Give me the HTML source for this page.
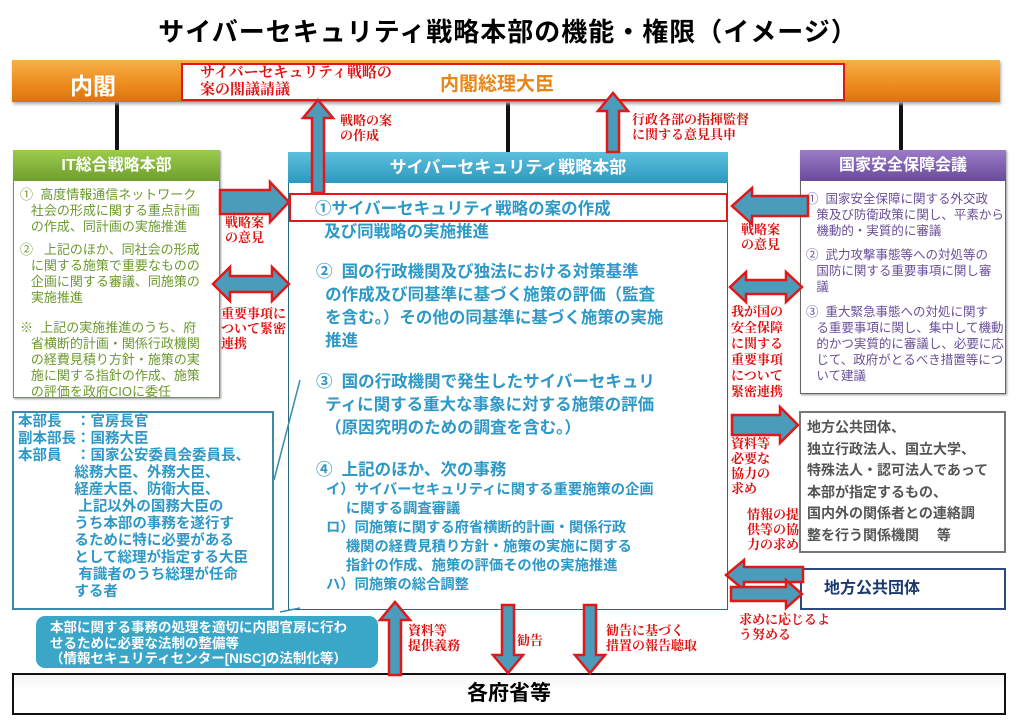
<!DOCTYPE html>
<html><head><meta charset="utf-8"><style>
body{margin:0;width:1016px;height:722px;background:#fff;position:relative;overflow:hidden;font-family:"Liberation Sans","Noto Sans CJK JP",sans-serif}
.a{position:absolute;white-space:nowrap}
.r{color:#e01010;font-family:"Liberation Serif","Noto Serif CJK SC",serif;font-weight:bold;font-size:13px;line-height:15px}
.g{color:#6b9a2c;font-size:13px;line-height:16px}
.p{color:#6a4f9a;font-size:12.5px;line-height:16px}
.b{color:#2e98c6;font-weight:bold;font-size:16.5px}
.s{color:#2e98c6;font-weight:bold;font-size:14.3px}
</style></head><body>
<div class="a" style="left:0;width:1016px;top:12px;text-align:center;font-size:26px;font-weight:bold;letter-spacing:1px">サイバーセキュリティ戦略本部の機能・権限（イメージ）</div>
<div class="a" style="left:115px;top:100px;width:4px;height:52px;background:#111"></div>
<div class="a" style="left:506px;top:100px;width:4px;height:52px;background:#111"></div>
<div class="a" style="left:899px;top:100px;width:4px;height:52px;background:#111"></div>
<div class="a" style="left:12px;top:60px;width:988px;height:42px;background:linear-gradient(#f7b04a,#ec8a1c 60%,#d8760e);box-shadow:1px 2px 3px #aaa"></div>
<div class="a" style="left:70px;top:67px;color:#fff;font-size:23px;font-weight:bold">内閣</div>
<div class="a" style="left:181px;top:63px;width:660px;height:34px;background:#fff;border:2px solid #e01818"></div>
<div class="a r" style="left:200px;top:65px;font-size:15px;line-height:16.5px">サイバーセキュリティ戦略の<br>案の閣議請議</div>
<div class="a" style="left:440px;top:69px;color:#e8861a;font-size:19px;font-weight:bold">内閣総理大臣</div>
<div class="a" style="left:13px;top:150px;width:205px;height:246px;border:1px solid #7a8a70;box-shadow:1px 1px 2px #999;background:#fff"></div>
<div class="a" style="left:13px;top:150px;width:207px;height:31px;background:linear-gradient(#9ccb4c,#6f9f2e);color:#fff;font-weight:bold;font-size:16px;text-align:center;line-height:31px">IT総合戦略本部</div>
<div class="a g" style="left:20px;top:187px">①&nbsp; 高度情報通信ネットワーク<br>&nbsp;&nbsp; 社会の形成に関する重点計画<br>&nbsp;&nbsp; の作成、同計画の実施推進</div>
<div class="a g" style="left:20px;top:242px">②&nbsp;&nbsp; 上記のほか、同社会の形成<br>&nbsp;&nbsp; に関する施策で重要なものの<br>&nbsp;&nbsp; 企画に関する審議、同施策の<br>&nbsp;&nbsp; 実施推進</div>
<div class="a g" style="left:20px;top:320px">※&nbsp; 上記の実施推進のうち、府<br>&nbsp;&nbsp; 省横断的計画・関係行政機関<br>&nbsp;&nbsp; の経費見積り方針・施策の実<br>&nbsp;&nbsp; 施に関する指針の作成、施策<br>&nbsp;&nbsp; の評価を政府CIOに委任</div>
<div class="a" style="left:288px;top:152px;width:438px;height:456px;border:1px solid #2b6a82;background:#fff"></div>
<div class="a" style="left:288px;top:152px;width:440px;height:31px;background:linear-gradient(#5cc0dc,#2e98c0);color:#fff;font-weight:bold;font-size:17px;text-align:center;line-height:31px">サイバーセキュリティ戦略本部</div>
<div class="a" style="left:289px;top:193px;width:435px;height:25px;border:2px solid #e01818"></div>
<div class="a b" style="left:315px;top:198px;line-height:23px">①サイバーセキュリティ戦略の案の作成<br>&nbsp;&nbsp;及び同戦略の実施推進</div>
<div class="a b" style="left:316px;top:261px;line-height:23px">②&nbsp; 国の行政機関及び独法における対策基準<br>&nbsp;&nbsp;の作成及び同基準に基づく施策の評価（監査<br>&nbsp;&nbsp;を含む。）その他の同基準に基づく施策の実施<br>&nbsp;&nbsp;推進</div>
<div class="a b" style="left:316px;top:371px;line-height:23px">③&nbsp; 国の行政機関で発生したサイバーセキュリ<br>&nbsp;&nbsp;ティに関する重大な事象に対する施策の評価<br>&nbsp;&nbsp;（原因究明のための調査を含む。）</div>
<div class="a b" style="left:316px;top:456px">④&nbsp; 上記のほか、次の事務</div>
<div class="a s" style="left:326px;top:481px;line-height:19px">イ）サイバーセキュリティに関する重要施策の企画<br>&nbsp;&nbsp;&nbsp;&nbsp;&nbsp;に関する調査審議<br>ロ）同施策に関する府省横断的計画・関係行政<br>&nbsp;&nbsp;&nbsp;&nbsp;&nbsp;機関の経費見積り方針・施策の実施に関する<br>&nbsp;&nbsp;&nbsp;&nbsp;&nbsp;指針の作成、施策の評価その他の実施推進<br>ハ）同施策の総合調整</div>
<div class="a" style="left:800px;top:150px;width:204px;height:242px;border:1px solid #666;box-shadow:1px 1px 2px #999;background:#fff"></div>
<div class="a" style="left:800px;top:150px;width:206px;height:31px;background:linear-gradient(#9a7cc8,#6a4a9a);color:#fff;font-weight:bold;font-size:16px;text-align:center;line-height:31px">国家安全保障会議</div>
<div class="a p" style="left:806px;top:191px">①&nbsp; 国家安全保障に関する外交政<br>&nbsp;&nbsp; 策及び防衛政策に関し、平素から<br>&nbsp;&nbsp; 機動的・実質的に審議</div>
<div class="a p" style="left:806px;top:247px">②&nbsp; 武力攻撃事態等への対処等の<br>&nbsp;&nbsp; 国防に関する重要事項に関し審<br>&nbsp;&nbsp; 議</div>
<div class="a p" style="left:806px;top:304px">③&nbsp; 重大緊急事態への対処に関す<br>&nbsp;&nbsp; る重要事項に関し、集中して機動<br>&nbsp;&nbsp; 的かつ実質的に審議し、必要に応<br>&nbsp;&nbsp; じて、政府がとるべき措置等につ<br>&nbsp;&nbsp; いて建議</div>
<div class="a" style="left:799px;top:411px;width:203px;height:138px;border:2px solid #777;background:#fff"></div>
<div class="a" style="left:807px;top:417px;color:#555;font-weight:bold;font-size:14px;line-height:21.5px">地方公共団体、<br>独立行政法人、国立大学、<br>特殊法人・認可法人であって<br>本部が指定するもの、<br>国内外の関係者との連絡調<br>整を行う関係機関　 等</div>
<div class="a" style="left:800px;top:568px;width:202px;height:38px;border:2px solid #2a4a80;background:#fff;color:#1a3a70;font-weight:bold;font-size:16px;line-height:38px;text-indent:22px">地方公共団体</div>
<div class="a" style="left:12px;top:411px;width:258px;height:195px;border:2px solid #3a8aa8;background:#fff"></div>
<div class="a s" style="left:18px;top:414px;line-height:17px;font-size:14.5px">本部長　：官房長官<br>副本部長：国務大臣<br>本部員　：国家公安委員会委員長、<br>&nbsp;&nbsp;&nbsp;&nbsp;&nbsp;&nbsp;&nbsp;&nbsp;&nbsp;&nbsp;&nbsp;&nbsp;&nbsp;&nbsp;総務大臣、外務大臣、<br>&nbsp;&nbsp;&nbsp;&nbsp;&nbsp;&nbsp;&nbsp;&nbsp;&nbsp;&nbsp;&nbsp;&nbsp;&nbsp;&nbsp;経産大臣、防衛大臣、<br>&nbsp;&nbsp;&nbsp;&nbsp;&nbsp;&nbsp;&nbsp;&nbsp;&nbsp;&nbsp;&nbsp;&nbsp;&nbsp;&nbsp;&nbsp;上記以外の国務大臣の<br>&nbsp;&nbsp;&nbsp;&nbsp;&nbsp;&nbsp;&nbsp;&nbsp;&nbsp;&nbsp;&nbsp;&nbsp;&nbsp;&nbsp;うち本部の事務を遂行す<br>&nbsp;&nbsp;&nbsp;&nbsp;&nbsp;&nbsp;&nbsp;&nbsp;&nbsp;&nbsp;&nbsp;&nbsp;&nbsp;&nbsp;るために特に必要がある<br>&nbsp;&nbsp;&nbsp;&nbsp;&nbsp;&nbsp;&nbsp;&nbsp;&nbsp;&nbsp;&nbsp;&nbsp;&nbsp;&nbsp;として総理が指定する大臣<br>&nbsp;&nbsp;&nbsp;&nbsp;&nbsp;&nbsp;&nbsp;&nbsp;&nbsp;&nbsp;&nbsp;&nbsp;&nbsp;&nbsp;&nbsp;有識者のうち総理が任命<br>&nbsp;&nbsp;&nbsp;&nbsp;&nbsp;&nbsp;&nbsp;&nbsp;&nbsp;&nbsp;&nbsp;&nbsp;&nbsp;&nbsp;する者</div>
<div class="a" style="left:36px;top:616px;width:342px;height:52px;background:#3aa6c8;border-radius:9px"></div>
<div class="a" style="left:50px;top:620px;color:#fff;font-weight:bold;font-size:13.5px;line-height:15.5px">本部に関する事務の処理を適切に内閣官房に行わ<br>せるために必要な法制の整備等<br>（情報セキュリティセンター[NISC]の法制化等）</div>
<div class="a" style="left:12px;top:673px;width:990px;height:38px;border:2px solid #111;background:linear-gradient(#f4f4f4,#fff 40%);text-align:center;font-weight:bold;font-size:21px;line-height:38px">各府省等</div>
<svg class="a" style="left:0;top:0" width="1016" height="722">
<g fill="#4a9cba" stroke="#e01818" stroke-width="2.5" stroke-linejoin="miter">
<polygon points="312,193 312,118 303,118 318,100 333,118 324,118 324,193"/>
<polygon points="607,152 607,111 598,111 613,93 628,111 619,111 619,152"/>
<polygon points="220,190 270,190 270,182 289,202 270,222 270,214 220,214"/>
<polygon points="213,284 230,267 230,276 272,276 272,267 289,284 272,301 272,292 230,292 230,301"/>
<polygon points="808,196 752,196 752,188 732,206 752,224 752,216 808,216"/>
<polygon points="730,287 746,272 746,280 786,280 786,272 802,287 786,302 786,294 746,294 746,302"/>
<polygon points="732,415 780,415 780,407 798,425 780,443 780,435 732,435"/>
<polygon points="803,567 744,567 744,560 726,575 744,590 744,582 803,582"/>
<polygon points="731,587 786,587 786,580 802,594 786,608 786,601 731,601"/>
<polygon points="389,675 389,620 380,620 395,602 410,620 401,620 401,675"/>
<polygon points="502,605 502,655 493,655 508,673 523,655 514,655 514,605"/>
<polygon points="584,605 584,655 575,655 590,673 605,655 596,655 596,605"/>
</g>
<g stroke="#3a8aa8" stroke-width="1.5" fill="none"><line x1="274" y1="480" x2="300" y2="380"/><line x1="280" y1="612" x2="300" y2="608"/></g>
</svg>
<div class="a r" style="left:340px;top:113px">戦略の案<br>の作成</div>
<div class="a r" style="left:632px;top:112px">行政各部の指揮監督<br>に関する意見具申</div>
<div class="a r" style="left:225px;top:215px">戦略案<br>の意見</div>
<div class="a r" style="left:221px;top:306px">重要事項に<br>ついて緊密<br>連携</div>
<div class="a r" style="left:741px;top:222px">戦略案<br>の意見</div>
<div class="a r" style="left:731px;top:304px;line-height:16px">我が国の<br>安全保障<br>に関する<br>重要事項<br>について<br>緊密連携</div>
<div class="a r" style="left:731px;top:436px">資料等<br>必要な<br>協力の<br>求め</div>
<div class="a r" style="left:747px;top:507px">情報の提<br>供等の協<br>力の求め</div>
<div class="a r" style="left:739px;top:612px">求めに応じるよ<br>う努める</div>
<div class="a r" style="left:408px;top:623px">資料等<br>提供義務</div>
<div class="a r" style="left:517px;top:633px">勧告</div>
<div class="a r" style="left:606px;top:623px">勧告に基づく<br>措置の報告聴取</div>
</body></html>
